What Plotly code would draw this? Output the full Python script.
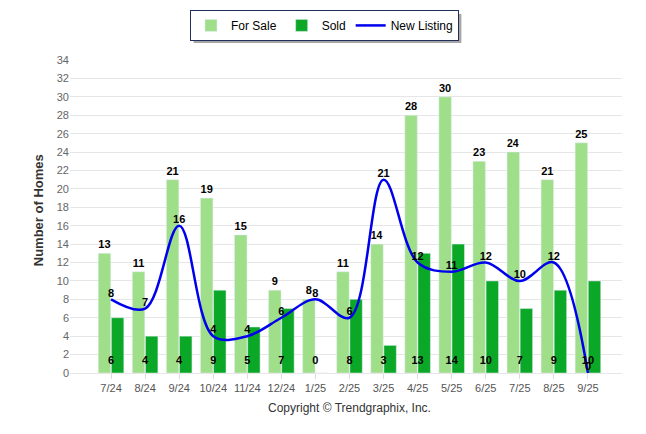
import plotly.graph_objects as go

months = ["7/24", "8/24", "9/24", "10/24", "11/24", "12/24", "1/25", "2/25",
          "3/25", "4/25", "5/25", "6/25", "7/25", "8/25", "9/25"]
for_sale = [13, 11, 21, 19, 15, 9, 8, 11, 14, 28, 30, 23, 24, 21, 25]
sold = [6, 4, 4, 9, 5, 7, 0, 8, 3, 13, 14, 10, 7, 9, 10]
new_listing = [8, 7, 16, 4, 4, 6, 8, 6, 21, 12, 11, 12, 10, 12, 0]
y_ticks = list(range(0, 35, 2))

LBL = dict(family="Liberation Sans, Arial, sans-serif", size=11, color="#000000")

fig = go.Figure()
fig.add_trace(go.Bar(
    x=months, y=for_sale, name="For Sale", marker_color="#a0df8a",
    text=[f"<b>{v}</b>" for v in for_sale], textposition="outside",
    textfont=LBL, cliponaxis=False, hoverinfo="skip"))
fig.add_trace(go.Bar(
    x=months, y=sold, name="Sold", marker_color="#0aa826",
    hoverinfo="skip"))
fig.add_trace(go.Scatter(
    x=months, y=new_listing, name="New Listing", mode="lines",
    line=dict(color="#0000ee", width=2.5, shape="spline", smoothing=1.0),
    hoverinfo="skip"))
# labels
fig.add_trace(go.Scatter(
    x=months, y=[0] * len(sold), mode="markers+text",
    marker=dict(size=8, opacity=0),
    text=[f"<b>{v}</b>" for v in sold], textposition="top center",
    textfont=LBL, showlegend=False, cliponaxis=False, hoverinfo="skip"))
fig.add_trace(go.Scatter(
    x=months, y=new_listing, mode="text",
    text=[f"<b>{v}</b>" for v in new_listing], textposition="top center",
    textfont=LBL, showlegend=False, cliponaxis=False, hoverinfo="skip"))

fig.update_layout(
    width=638, height=426,
    margin=dict(l=62, r=24, t=52, b=61, autoexpand=False),
    paper_bgcolor="white", plot_bgcolor="white",
    barmode="group", bargap=0.23, bargroupgap=0.05,
    font=dict(family="Liberation Sans, Arial, sans-serif", color="#333"),
    showlegend=True,
    legend=dict(orientation="h", x=0.461, xanchor="center", y=1.16, yanchor="top",
                bgcolor="white", bordercolor="#1f2f5a", borderwidth=1,
                font=dict(size=12, color="#000"), traceorder="normal"),
    xaxis=dict(type="category", range=[-1.205, 15], showgrid=False,
               ticks="outside", ticklen=5, tickcolor="#dddddd",
               showline=True, linecolor="#e6e6e6", linewidth=1,
               tickfont=dict(size=11, color="#555")),
    yaxis=dict(range=[0, 34], tickvals=y_ticks, showgrid=True,
               gridcolor="#e6e6e6", gridwidth=1, zeroline=False,
               tickfont=dict(family="Liberation Sans Narrow, Liberation Sans, Arial", size=11, color="#666")),
    shapes=[
        dict(type="rect", xref="paper", yref="paper",
             x0=0.224, x1=0.709, y0=1.054, y1=1.147,
             fillcolor="rgba(0,0,0,0.35)", line=dict(width=0), layer="above"),
    ],
    annotations=[
        dict(text="<b>Number of Homes</b>", textangle=-90, xref="paper", yref="paper",
             x=-0.058, y=0.52, xanchor="center", yanchor="middle", showarrow=False,
             font=dict(size=13, color="#333")),
        dict(text="Copyright © Trendgraphix, Inc.", xref="paper", yref="paper",
             x=0.507, y=-0.112, xanchor="center", yanchor="middle", showarrow=False,
             font=dict(size=12, color="#333")),
    ],
)

fig.write_html("out.html")
